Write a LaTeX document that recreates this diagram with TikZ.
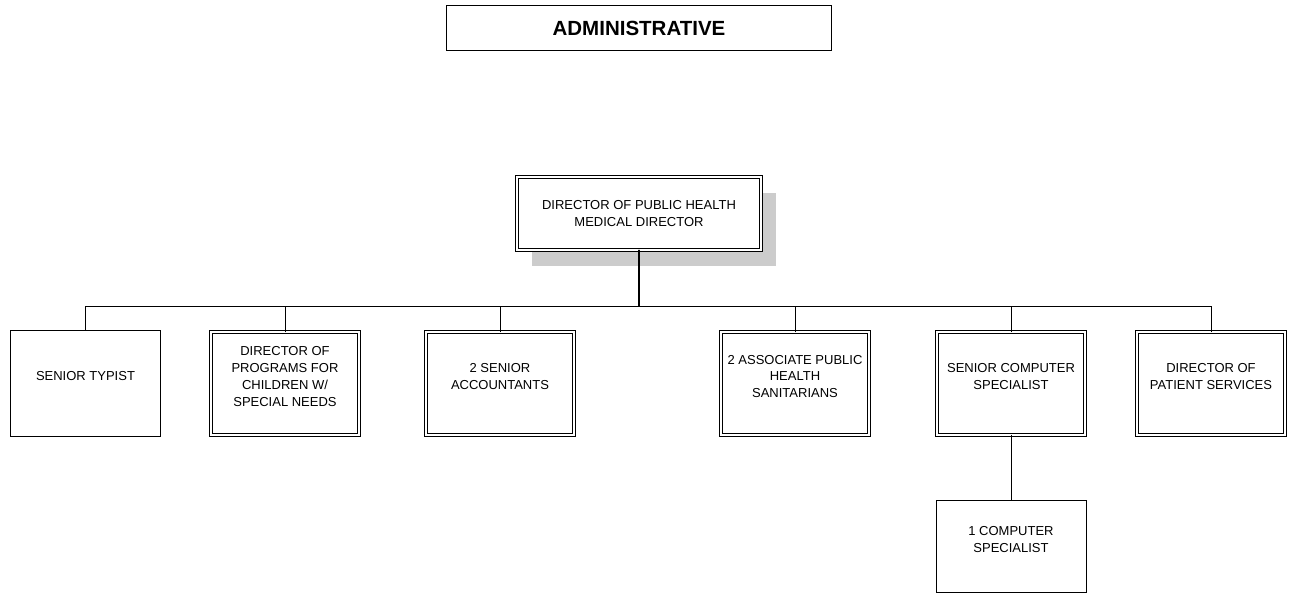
\documentclass[tikz,border=0pt]{standalone}
\usepackage{fontspec}
\setmainfont{Liberation Sans}
\usepackage{tikz}
\usetikzlibrary{shapes,shadows}

\begin{document}
\begin{tikzpicture}[x=1pt,y=-1pt,cap=round,
        font=\fontsize{13}{16.7}\selectfont,
        plainbox/.style={draw,line width=1pt,minimum width=150pt,minimum height=106pt,inner sep=0pt},
        dblbox/.style={draw,line width=0.7pt,double,double distance=2pt,minimum width=148pt,minimum height=103pt,inner sep=0pt},
        boxtext/.style={align=center,yshift=7pt},
        conn/.style={line width=1pt}]
        \useasboundingbox (0,0) rectangle (1289,595);

        % draw the title
        \node[draw,line width=1pt,minimum width=385pt,minimum height=45pt,font=\fontsize{20.5}{24}\selectfont\bfseries]
                (admin) at (639,28) {ADMINISTRATIVE};

        % draw the director with its shadow
        \node[dblbox,minimum width=244pt,minimum height=73pt,
              drop shadow={shadow xshift=15pt,shadow yshift=-16pt,fill=black!20,opacity=1},fill=white,
              label={[align=center]center:DIRECTOR OF PUBLIC HEALTH\\MEDICAL DIRECTOR}]
                (director) at (639,213.5) {};

        % draw the boxes below the director
        \node[plainbox,label={[boxtext]center:SENIOR TYPIST}] (typist) at (85.5,383.5) {};
        \node[dblbox,label={[boxtext]center:DIRECTOR OF\\PROGRAMS FOR\\CHILDREN W/\\SPECIAL NEEDS}] (programs) at (285,383.5) {};
        \node[dblbox,label={[boxtext]center:2 SENIOR\\ACCOUNTANTS}] (accountants) at (500,383.5) {};
        \node[dblbox,label={[boxtext]center:2 ASSOCIATE PUBLIC\\HEALTH\\SANITARIANS}] (associates) at (795,383.5) {};
        \node[dblbox,label={[boxtext]center:SENIOR COMPUTER\\SPECIALIST}] (computer) at (1011,383.5) {};
        \node[dblbox,label={[boxtext]center:DIRECTOR OF\\PATIENT SERVICES}] (patient) at (1211,383.5) {};
        \node[plainbox,minimum height=92pt,label={[boxtext]center:1 COMPUTER\\SPECIALIST}] (compspec) at (1011,546.5) {};

        % draw the connectors
        \coordinate (bus) at (639,306);
        \draw[conn,line width=1.5pt] (director.south) -- (bus);
        \foreach \n in {typist,programs,accountants,associates,computer,patient}
                \draw[conn] (bus) -| (\n.north);
        \draw[conn] (computer.south) -- (compspec.north);
\end{tikzpicture}
\end{document}
